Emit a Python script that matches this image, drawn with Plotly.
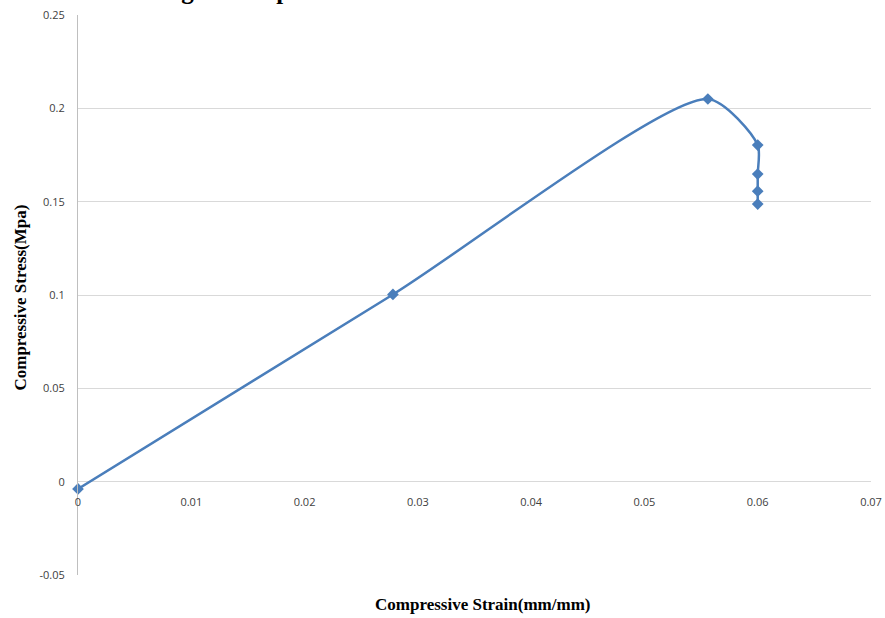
import plotly.graph_objects as go

strain = [0.0, 0.0278, 0.0556, 0.0600, 0.0600, 0.0600, 0.0600]
stress = [-0.0039, 0.1003, 0.2050, 0.1803, 0.1648, 0.1556, 0.1487]

x_ticks = [0, 0.01, 0.02, 0.03, 0.04, 0.05, 0.06, 0.07]
x_tick_labels = ["0", "0.01", "0.02", "0.03", "0.04", "0.05", "0.06", "0.07"]
y_ticks = [-0.05, 0, 0.05, 0.1, 0.15, 0.2, 0.25]
y_tick_labels = ["-0.05", "0", "0.05", "0.1", "0.15", "0.2", "0.25"]

title_text = "Fig. 3 Compressive Stress Strain Curve for Material"
x_title = "Compressive Strain(mm/mm)"
y_title = "Compressive Stress(Mpa)"

blue = "#4A7EBB"
grid = "#D9D9D9"
tickfont = dict(family="Open Sans, DejaVu Sans, sans-serif", size=11, color="#404040")
serif = "Liberation Serif, Times New Roman, serif"

fig = go.Figure()
fig.add_trace(go.Scatter(
    x=strain, y=stress, mode="lines+markers",
    line=dict(color=blue, width=2.5, shape="spline", smoothing=0.7),
    marker=dict(symbol="diamond", size=9, color=blue),
    showlegend=False, cliponaxis=False,
))

fig.update_layout(
    width=885, height=618,
    margin=dict(l=78, r=14, t=15, b=43, autoexpand=False),
    paper_bgcolor="white", plot_bgcolor="white",
    xaxis=dict(
        range=[0, 0.07], tickvals=x_ticks, ticktext=x_tick_labels,
        showgrid=False, zeroline=False, showline=False,
        anchor="free", position=1/6, automargin=False,
        ticks="outside", ticklen=10, tickcolor="rgba(0,0,0,0)",
        tickfont=tickfont,
    ),
    yaxis=dict(
        range=[-0.05, 0.25], tickvals=y_ticks, ticktext=y_tick_labels,
        showgrid=True, gridcolor=grid, gridwidth=1, automargin=False,
        zeroline=False, showline=True, linecolor="#BFBFBF", linewidth=1,
        ticks="outside", ticklen=10, tickcolor="rgba(0,0,0,0)",
        tickfont=tickfont,
    ),
    annotations=[
        dict(text="<b>" + title_text + "</b>", xref="paper", yref="paper", x=0.4527, y=1.0,
             xanchor="center", yanchor="bottom", yshift=8.5, showarrow=False,
             font=dict(family=serif, size=25, color="black")),
        dict(text="<b>" + x_title + "</b>", xref="paper", yref="paper", x=0.5095, y=-0.0518,
             xanchor="center", yanchor="middle", showarrow=False,
             font=dict(family=serif, size=17, color="black")),
        dict(text="<b>" + y_title + "</b>", xref="paper", yref="paper", x=-0.0731, y=0.4955,
             xanchor="center", yanchor="middle", showarrow=False, textangle=-90,
             font=dict(family=serif, size=17, color="black")),
    ],
)

fig.write_html("out.html", config={"displayModeBar": False},
               post_script="document.body.style.margin='0';")
